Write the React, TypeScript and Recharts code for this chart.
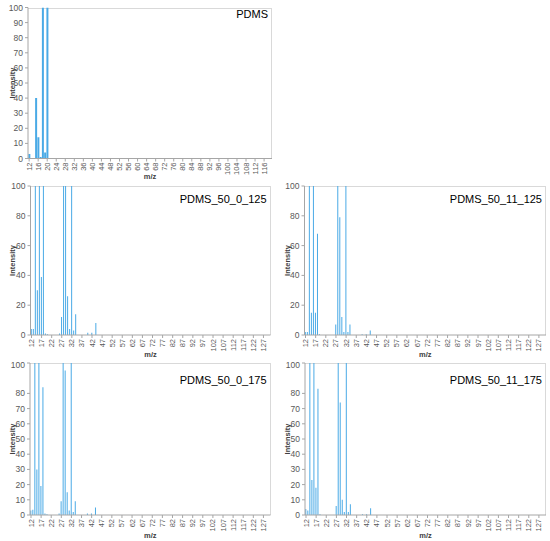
import { BarChart, Bar, XAxis, YAxis } from "recharts";

const FONT = '"Liberation Sans", Arial, sans-serif';
const AXIS = "#a6a6a6";
const FRAME = "#d9d9d9";
const TXT = "#595959";
const BAR = "#4aaae6";

// m/z categories on the x axis
const mzTop = Array.from({ length: 108 }, (_, i) => 12 + i);
const mzLow = Array.from({ length: 119 }, (_, i) => 12 + i);
const yTicks = [0, 10, 20, 30, 40, 50, 60, 70, 80, 90, 100];

// peaks (all other m/z are 0)
const pdmsMz = [12, 15, 16, 17, 18, 19, 20];
const pdmsVal = [3, 40, 14, 1, 100, 4, 100];

const s0125Mz = [12, 13, 14, 15, 16, 17, 18, 19, 20, 26, 27, 28, 29, 30, 31, 32, 33, 34, 40, 42, 44];
const s0125Val = [4, 4, 100, 30, 100, 39, 100, 1, 0.5, 1, 12, 100, 100, 26, 4, 100, 3, 14, 1.5, 1.5, 8];

const s11125Mz = [12, 13, 14, 15, 16, 17, 18, 19, 27, 28, 29, 30, 31, 32, 33, 34, 40, 42, 44];
const s11125Val = [2, 2, 100, 15, 100, 15, 68, 0.5, 7, 100, 79, 12, 2, 100, 2, 7, 0.5, 0.5, 3];

const s0175Mz = [12, 13, 14, 15, 16, 17, 18, 19, 20, 26, 27, 28, 29, 30, 31, 32, 33, 34, 40, 42, 44];
const s0175Val = [3, 3.5, 100, 30, 100, 19, 84, 1, 0.5, 1, 9, 100, 95, 15, 3, 100, 2, 9, 1, 1, 5];

const s11175Mz = [12, 13, 14, 15, 16, 17, 18, 19, 27, 28, 29, 30, 31, 32, 33, 34, 40, 42, 44];
const s11175Val = [4, 3, 100, 23, 100, 18, 83, 0.5, 6, 100, 74, 10, 2, 100, 2, 7, 0.5, 0.5, 4.5];

const XTick = (props: any) => {
  const { x, y, payload } = props;
  return (
    <text
      x={x}
      y={y}
      transform={`rotate(-90 ${x} ${y})`}
      textAnchor="end"
      dominantBaseline="central"
      fontSize={7.5}
      fill={TXT}
      fontFamily={FONT}
    >
      {payload.value}
    </text>
  );
};

const IntensityLabel = (props: any) => {
  const { x, y, height } = props.viewBox;
  const cx = x + 12.5;
  const cy = y + height / 2;
  return (
    <text
      x={cx}
      y={cy}
      transform={`rotate(-90 ${cx} ${cy})`}
      textAnchor="middle"
      dominantBaseline="central"
      fontSize={7.5}
      fontWeight="bold"
      fill="#404040"
      fontFamily={FONT}
    >
      Intensity
    </text>
  );
};

const MzLabel = (props: any) => {
  const { x, y, width, height } = props.viewBox;
  return (
    <text
      x={x + width / 2}
      y={y + height - 6}
      textAnchor="middle"
      dominantBaseline="central"
      fontSize={7.5}
      fontWeight="bold"
      fill="#404040"
      fontFamily={FONT}
    >
      m/z
    </text>
  );
};

type PanelProps = {
  title: string;
  mzAxis: number[];
  peakMz: number[];
  peakVal: number[];
  left: number;
  top: number;
  width: number;
  height: number;
  plotLeft: number;
  plotRight: number;
  plotTop: number;
  plotBottom: number;
  interval: number;
  titleTop: number;
};

const Panel = (p: PanelProps) => {
  const data = p.mzAxis.map((m) => {
    const k = p.peakMz.indexOf(m);
    return { mz: String(m), v: k >= 0 ? p.peakVal[k] : 0 };
  });
  return (
    <div style={{ position: "absolute", left: p.left, top: p.top, width: p.width, height: p.height }}>
      {/* plot-area frame */}
      <div
        style={{
          position: "absolute",
          left: p.plotLeft,
          top: p.plotTop,
          width: p.plotRight - p.plotLeft,
          height: p.plotBottom - p.plotTop,
          borderTop: `1px solid ${FRAME}`,
          borderRight: `1px solid ${FRAME}`,
          boxSizing: "border-box",
        }}
      />
      <div style={{ position: "absolute", left: 0, top: 0 }}>
        <BarChart
          width={p.width}
          height={p.height}
          data={data}
          margin={{ top: p.plotTop, right: p.width - p.plotRight, left: 0, bottom: 0 }}
          barCategoryGap="15%"
        >
          <XAxis
            dataKey="mz"
            interval={p.interval}
            height={p.height - p.plotBottom}
            tick={<XTick />}
            tickSize={3}
            tickMargin={1}
            tickLine={{ stroke: AXIS }}
            axisLine={{ stroke: AXIS }}
            label={{ content: MzLabel }}
          />
          <YAxis
            domain={[0, 100]}
            ticks={yTicks}
            allowDataOverflow
            width={p.plotLeft}
            tick={{ fontSize: 8.5, fill: TXT, fontFamily: FONT }}
            tickSize={3}
            tickMargin={2}
            tickLine={{ stroke: AXIS }}
            axisLine={{ stroke: AXIS }}
            label={{ content: IntensityLabel }}
          />
          <Bar dataKey="v" fill={BAR} stroke="none" isAnimationActive={false} />
        </BarChart>
      </div>
      <div
        style={{
          position: "absolute",
          right: p.width - p.plotRight + 4,
          top: p.titleTop,
          fontFamily: FONT,
          fontSize: 11,
          lineHeight: "13px",
          color: "#000",
          whiteSpace: "nowrap",
        }}
      >
        {p.title}
      </div>
    </div>
  );
};

export default function App() {
  return (
    <div style={{ position: "absolute", left: 0, top: 0, width: 550, height: 541, background: "#fff" }}>
      <Panel
        title="PDMS"
        mzAxis={mzTop}
        peakMz={pdmsMz}
        peakVal={pdmsVal}
        left={0}
        top={0}
        width={276}
        height={182}
        plotLeft={28}
        plotRight={272}
        plotTop={7.5}
        plotBottom={158.5}
        interval={3}
        titleTop={7.5}
      />
      <Panel
        title="PDMS_50_0_125"
        mzAxis={mzLow}
        peakMz={s0125Mz}
        peakVal={s0125Val}
        left={0}
        top={180}
        width={275}
        height={180}
        plotLeft={30.5}
        plotRight={270.5}
        plotTop={6}
        plotBottom={155}
        interval={4}
        titleTop={12.5}
      />
      <Panel
        title="PDMS_50_11_125"
        mzAxis={mzLow}
        peakMz={s11125Mz}
        peakVal={s11125Val}
        left={275}
        top={180}
        width={275}
        height={180}
        plotLeft={29.5}
        plotRight={271}
        plotTop={6}
        plotBottom={155}
        interval={4}
        titleTop={12.5}
      />
      <Panel
        title="PDMS_50_0_175"
        mzAxis={mzLow}
        peakMz={s0175Mz}
        peakVal={s0175Val}
        left={0}
        top={360}
        width={275}
        height={181}
        plotLeft={30}
        plotRight={270.5}
        plotTop={3}
        plotBottom={155}
        interval={4}
        titleTop={13.5}
      />
      <Panel
        title="PDMS_50_11_175"
        mzAxis={mzLow}
        peakMz={s11175Mz}
        peakVal={s11175Val}
        left={275}
        top={360}
        width={275}
        height={181}
        plotLeft={30}
        plotRight={271}
        plotTop={3}
        plotBottom={155}
        interval={4}
        titleTop={13.5}
      />
    </div>
  );
}
